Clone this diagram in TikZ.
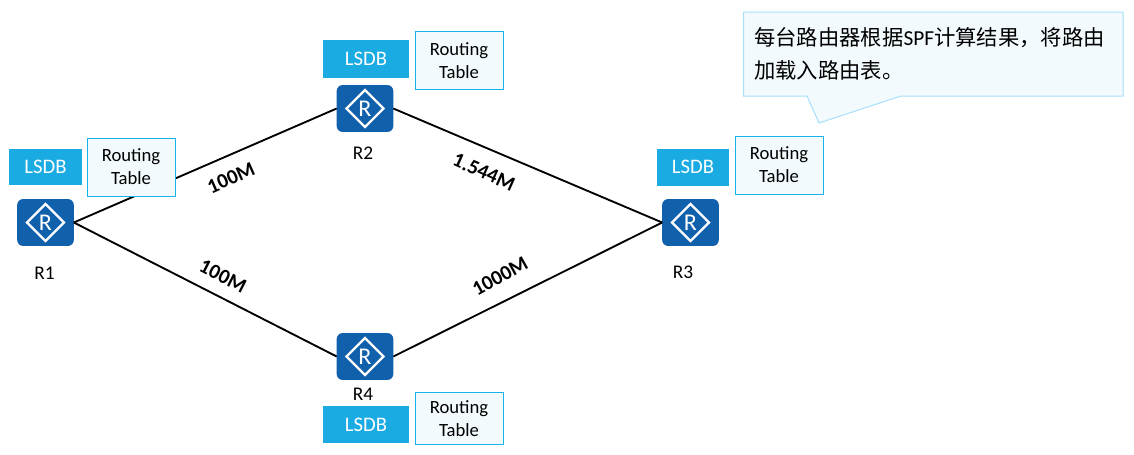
\documentclass[tikz,border=0pt]{standalone}
\usepackage{fontspec}
\setmainfont{Carlito}
\newfontfamily\cjk{Noto Sans CJK SC}
\usetikzlibrary{shapes.geometric}
\definecolor{routerblue}{HTML}{1160AB}
\definecolor{lsdbblue}{HTML}{1BABE3}
\definecolor{tablefill}{HTML}{F3FAFE}
\definecolor{tableline}{HTML}{14B4EA}
\definecolor{callline}{HTML}{A6E0F8}
\tikzset{
  x=0.75pt,y=-0.75pt,
  routerbox/.style={draw=none,fill=routerblue,rounded corners=4.5pt,minimum width=42.5pt,minimum height=35.2pt,inner sep=0pt,outer sep=0pt},
  routermark/.style={diamond,aspect=1,draw=white,line width=1.7pt,fill=none,minimum width=28.5pt,minimum height=28.5pt,inner sep=0pt,text=white,font=\fontsize{18}{18}\selectfont},
  lsdbbox/.style={fill=lsdbblue,text=white,inner sep=0pt,font=\fontsize{15.5}{18}\selectfont},
  tablebox/.style={draw=tableline,line width=0.75pt,fill=tablefill,inner sep=0pt,align=center,font=\fontsize{14}{17.2}\selectfont},
  namelabel/.style={inner sep=0pt,font=\fontsize{14.5}{16}\selectfont},
  linklabel/.style={inner sep=0pt,font=\bfseries\fontsize{15.5}{18}\selectfont},
  linkline/.style={draw=black,line width=1.4pt},
  callouttext/.style={inner sep=0pt,align=left,anchor=north west,text width=360pt,font=\fontsize{16}{24.6}\selectfont}
}
\begin{document}
\begin{tikzpicture}
\useasboundingbox (0,0) rectangle (1134,454);
% routers
\node[routerbox] (R1) at (45.5,222.5) {};
\node[routerbox] (R2) at (365,108.5) {};
\node[routerbox] (R3) at (690.5,222.5) {};
\node[routerbox] (R4) at (365,356.5) {};
\node[routermark] (M1) at (R1) {R};
\node[routermark] (M2) at (R2) {R};
\node[routermark] (M3) at (R3) {R};
\node[routermark] (M4) at (R4) {R};
% links
\draw[linkline] (R1.east) -- (R2.west);
\draw[linkline] (R1.east) -- (R4.west);
\draw[linkline] (R2.east) -- (R3.west);
\draw[linkline] (R4.east) -- (R3.west);
% LSDB
\node[lsdbbox,minimum width=54.75pt,minimum height=27pt] (L1) at (45.5,167) {LSDB};
\node[lsdbbox,minimum width=64.5pt,minimum height=28.5pt] (L2) at (366,59) {LSDB};
\node[lsdbbox,minimum width=54pt,minimum height=27.75pt] (L3) at (693,167) {LSDB};
\node[lsdbbox,minimum width=64.5pt,minimum height=28pt] (L4) at (366,424.5) {LSDB};
% routing tables
\node[tablebox,minimum width=66pt,minimum height=43.5pt] (T1) at (131,167) {\raisebox{-0.75pt}{Routing}\\\raisebox{-0.75pt}{Table}};
\node[tablebox,minimum width=66pt,minimum height=43.5pt] (T2) at (459,60.5) {Routing\\Table};
\node[tablebox,minimum width=66pt,minimum height=43.5pt] (T3) at (779,165) {\raisebox{-0.75pt}{Routing}\\\raisebox{-0.75pt}{Table}};
\node[tablebox,minimum width=66pt,minimum height=39.5pt] (T4) at (459,418.5) {Routing\\Table};
% names
\node[namelabel] (N1) at (44.5,273) {R1};
\node[namelabel] (N2) at (363,153) {R2};
\node[namelabel] (N3) at (683,272) {R3};
\node[namelabel] (N4) at (363,394) {R4};
% link labels
\node[linklabel,rotate=24] (B1) at (231,178) {100M};
\node[linklabel,rotate=-27] (B2) at (223,276) {100M};
\node[linklabel,rotate=-24] (B3) at (484,172) {1.544M};
\node[linklabel,rotate=29] (B4) at (500,276) {1000M};
% callout
\filldraw[draw=callline,fill=tablefill,line width=0.75pt] (743.5,12) -- (1123,12) -- (1123,96) -- (901,96) -- (819,123) -- (807,96) -- (743.5,96) -- cycle;
\node[callouttext] (C) at (754,27.5) {{\cjk 每台路由器根据}SPF{\cjk 计算结果，将路由}\\{\cjk 加载入路由表。}};
\end{tikzpicture}
\end{document}
